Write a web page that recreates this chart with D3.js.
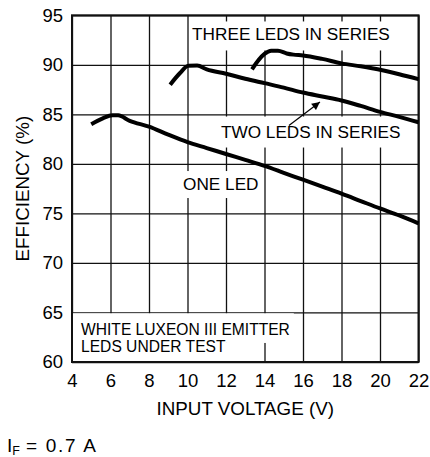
<!DOCTYPE html>
<html>
<head>
<meta charset="utf-8">
<script src="https://cdn.jsdelivr.net/npm/d3@7"></script>
<style>
  html, body { margin: 0; padding: 0; background: #fff; }
  svg { display: block; }
  text { font-family: "Liberation Sans", Arial, sans-serif; fill: #000; }
</style>
</head>
<body>
<svg id="chart" width="430" height="457"></svg>
<script>
// ---- data ----
const xTicks = [4, 6, 8, 10, 12, 14, 16, 18, 20, 22];
const yTicks = [60, 65, 70, 75, 80, 85, 90, 95];

const oneLedV   = [5.0, 5.6, 6.1, 6.4, 7.0, 8.0, 9.0, 10.0, 11.0, 12.0, 13.0, 14.0, 15.0, 16.0, 17.0, 18.0, 19.0, 20.0, 21.0, 22.0];
const oneLedEff = [84.0, 84.6, 84.92, 84.9, 84.35, 83.75, 82.95, 82.2, 81.6, 81.0, 80.4, 79.8, 79.1, 78.4, 77.7, 77.0, 76.25, 75.5, 74.8, 74.0];

const twoLedV   = [9.1, 9.6, 10.05, 10.5, 11.0, 12.0, 13.0, 14.0, 15.0, 16.0, 17.0, 18.0, 19.0, 20.0, 21.0, 22.0];
const twoLedEff = [88.0, 89.15, 89.9, 89.92, 89.55, 89.1, 88.6, 88.15, 87.7, 87.2, 86.8, 86.4, 85.85, 85.25, 84.75, 84.2];

const threeLedV   = [13.35, 13.7, 14.0, 14.35, 14.7, 15.15, 15.5, 16.0, 17.0, 18.0, 19.0, 20.0, 21.0, 22.0];
const threeLedEff = [89.55, 90.5, 91.1, 91.42, 91.42, 91.15, 91.03, 90.95, 90.6, 90.15, 89.85, 89.5, 89.05, 88.55];

// ---- layout ----
const svg = d3.select("#chart");
const pL = 72, pR = 418.5, pT = 15.3, pB = 362;
const x = d3.scaleLinear().domain([4, 22]).range([pL, pR]);
const y = d3.scaleLinear().domain([60, 95]).range([pB, pT]);

// grid + tick labels via axes
const gx = svg.append("g").attr("transform", `translate(0,${pB})`)
  .call(d3.axisBottom(x).tickValues(xTicks).tickSize(-(pB - pT)).tickPadding(12).tickFormat(d3.format("d")));
const gy = svg.append("g").attr("transform", `translate(${pL},0)`)
  .call(d3.axisLeft(y).tickValues(yTicks).tickSize(-(pR - pL)).tickPadding(9).tickFormat(d3.format("d")));
[gx, gy].forEach(g => {
  g.select(".domain").remove();
  g.selectAll(".tick line").attr("stroke", "#111").attr("stroke-width", 1.3);
  g.selectAll(".tick text").style("font-size", "18.5px").attr("fill", "#000")
    .style("font-family", '"Liberation Sans", Arial, sans-serif');
});

// labels with white backgrounds (hide grid behind)
const bgLayer = svg.append("g");
const labelLayer = svg.append("g");
function label(txt, xv, yv, size, pad) {
  const t = labelLayer.append("text").attr("x", x(xv)).attr("y", y(yv))
    .style("font-size", size + "px").text(txt);
  const b = t.node().getBBox();
  bgLayer.append("rect")
    .attr("x", b.x - pad[3]).attr("y", b.y - pad[0])
    .attr("width", b.width + pad[1] + pad[3]).attr("height", b.height + pad[0] + pad[2])
    .attr("fill", "#fff");
  return t;
}
label("THREE LEDS IN SERIES", 10.24, 92.51, 17.2, [2.5, 3, 6.5, 3]);
label("TWO LEDS IN SERIES", 11.74, 82.61, 17.2, [5.5, 3, 5.5, 3]);
label("ONE LED", 9.77, 77.36, 17.2, [3, 3, 4, 3]);

// note box bottom-left
const noteX = 4.47;
const n1 = labelLayer.append("text").attr("x", x(noteX)).attr("y", y(62.73)).style("font-size", "15.6px").text("WHITE LUXEON III EMITTER");
const n2 = labelLayer.append("text").attr("x", x(noteX)).attr("y", y(61.04)).style("font-size", "15.6px").text("LEDS UNDER TEST");
const b1 = n1.node().getBBox(), b2 = n2.node().getBBox();
const yMid = y(62.73) + 8;
bgLayer.append("rect").attr("x", pL + 1).attr("y", y(65) + 0.8)
  .attr("width", b1.x + b1.width + 4 - pL - 1).attr("height", yMid - y(65) - 0.8).attr("fill", "#fff");
bgLayer.append("rect").attr("x", pL + 1).attr("y", yMid)
  .attr("width", b2.x + b2.width + 5 - pL - 1).attr("height", pB - 1 - yMid).attr("fill", "#fff");

// border
svg.append("rect").attr("x", pL).attr("y", pT).attr("width", pR - pL).attr("height", pB - pT)
  .attr("fill", "none").attr("stroke", "#111").attr("stroke-width", 2);

// curves
const line = d3.line().x(d => x(d[0])).y(d => y(d[1])).curve(d3.curveMonotoneX);
[[oneLedV, oneLedEff], [twoLedV, twoLedEff], [threeLedV, threeLedEff]].forEach(([vs, es]) => {
  svg.append("path").datum(vs.map((v, i) => [v, es[i]]))
    .attr("d", line).attr("fill", "none").attr("stroke", "#000")
    .attr("stroke-width", 4).attr("stroke-linejoin", "round");
});

// arrow pointing to two-LED curve
const arrowFrom = [15.27, 83.87], arrowTo = [16.88, 86.24];
svg.append("defs").append("marker").attr("id", "ah")
  .attr("viewBox", "0 0 10 10").attr("refX", 10).attr("refY", 5)
  .attr("markerWidth", 10).attr("markerHeight", 8).attr("markerUnits", "userSpaceOnUse")
  .attr("orient", "auto")
  .append("path").attr("d", "M0,0 L10,5 L0,10 Z").attr("fill", "#000");
svg.append("line").attr("x1", x(arrowFrom[0])).attr("y1", y(arrowFrom[1]))
  .attr("x2", x(arrowTo[0])).attr("y2", y(arrowTo[1]))
  .attr("stroke", "#000").attr("stroke-width", 1.2).attr("marker-end", "url(#ah)");

// axis titles
svg.append("text").attr("x", (pL + pR) / 2).attr("y", 415).attr("text-anchor", "middle")
  .style("font-size", "18.8px").text("INPUT VOLTAGE (V)");
svg.append("text").attr("transform", `translate(29,${(pT + pB) / 2}) rotate(-90)`).attr("text-anchor", "middle")
  .style("font-size", "18.8px").text("EFFICIENCY (%)");

// condition note
const cond = svg.append("text").attr("x", 7).attr("y", 452).style("font-size", "19px");
cond.append("tspan").text("I");
cond.append("tspan").attr("dy", 2.5).style("font-size", "12.5px").text("F");
cond.append("tspan").attr("x", 26).attr("dy", -2.5).attr("textLength", 70).attr("lengthAdjust", "spacing").text("= 0.7 A");
</script>
</body>
</html>
